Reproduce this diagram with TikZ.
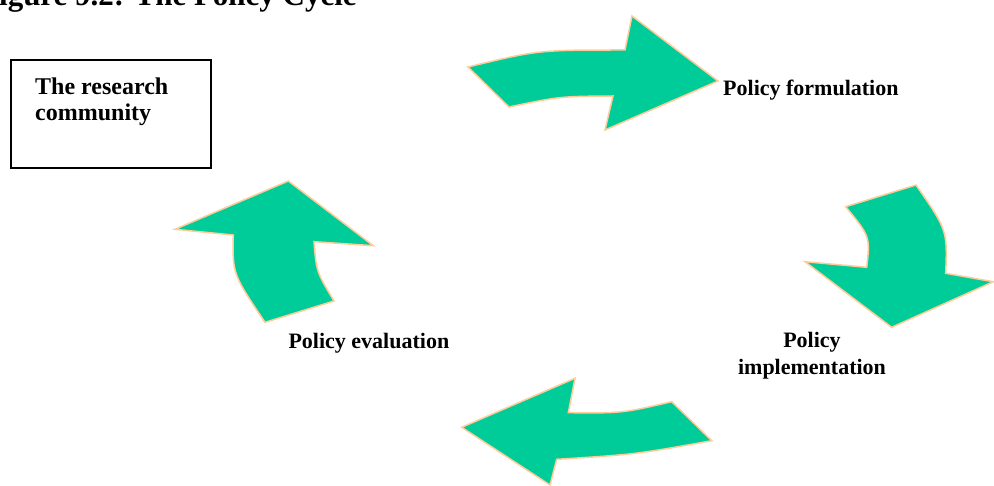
\documentclass[tikz,border=0pt]{standalone}
\usepackage{fontspec}
\setmainfont{Liberation Serif}
\definecolor{arrowgreen}{RGB}{0,204,153}
\definecolor{arrowedge}{RGB}{255,204,153}
\tikzset{
  cyclearrow/.style={fill=arrowgreen, draw=arrowedge, line width=1.5pt, line join=miter},
  lbl/.style={font=\fontsize{22}{26.6}\selectfont\bfseries, inner sep=0pt},
  boxlbl/.style={font=\fontsize{24}{26}\selectfont\bfseries, inner sep=0pt, anchor=base west},
}
\begin{document}
\begin{tikzpicture}[x=1pt, y=-1pt]
\useasboundingbox (0,0) rectangle (994,486);
\clip (0,0) rectangle (994,486);

% title (cut at top)
\node[font=\fontsize{31}{36}\selectfont\bfseries, inner sep=0pt, anchor=base west] (title) at (-20,5.5) {Figure 9.2: The Policy Cycle};

% research community box
\node[draw, line width=1.8pt, minimum width=200pt, minimum height=108pt, anchor=north west, inner sep=0pt] (research) at (10,59) {};
\node[boxlbl] (researchA) at (35,95) {The research};
\node[boxlbl] (researchB) at (35,121) {community};

% arrow 1: top, pointing right
\path[cyclearrow] (468,67) .. controls (538,50) .. (625,50) -- (632,16) -- (718,81) -- (605,130) -- (613,96) .. controls (559.7,96.4) .. (509,107) -- cycle;

% arrow 2: right, pointing down
\path[cyclearrow] (845.7,206.7) -- (916,185) .. controls (947.4,230.3) .. (945.7,273.3) -- (993.3,281.7) -- (891.7,327.3) -- (805,261.7) -- (866.7,267.3) .. controls (870.2,236.6) .. (845.7,206.7) -- cycle;

% arrow 3: bottom, pointing left
\path[cyclearrow] (671.7,401.7) -- (711.7,440.7) .. controls (635.3,454.4) .. (556.7,459.3) -- (550,485) -- (461.7,427.3) -- (575,378.3) -- (568.3,412.7) .. controls (622.3,413.2) .. (671.7,401.7) -- cycle;

% arrow 4: left, pointing up
\path[cyclearrow] (265,322.3) -- (334,301) .. controls (316.4,271.8) .. (314,241.7) -- (373.3,245.7) -- (288.3,181) -- (175,229.3) -- (233.3,235) .. controls (232.5,273.8) .. (265,322.3) -- cycle;

% labels
\node[lbl, anchor=base west] (formulation) at (723,96) {Policy formulation};
\node[lbl, anchor=base west] (evaluation) at (288.3,348.3) {Policy evaluation};
\node[lbl, anchor=base] (implA) at (812,348) {Policy};
\node[lbl, anchor=base] (implB) at (812,374.5) {implementation};
\end{tikzpicture}
\end{document}
